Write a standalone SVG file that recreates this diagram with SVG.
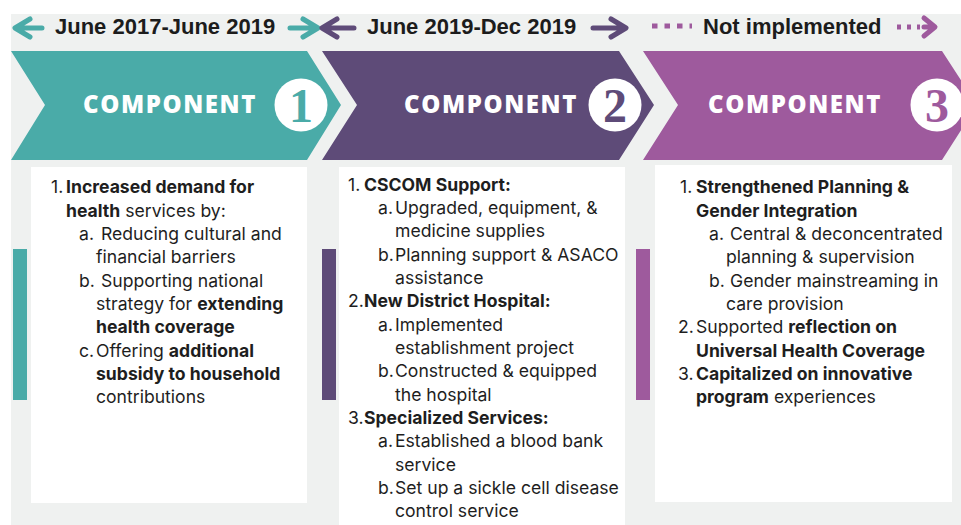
<svg xmlns="http://www.w3.org/2000/svg" width="961" height="525" viewBox="0 0 961 525">
<defs>
<style>
.hdr{font-family:"Liberation Sans",Arial,sans-serif;font-weight:700;font-size:22px;fill:#1c1c1c}
.comp{font-family:"Open Sans","Liberation Sans",sans-serif;font-weight:800;font-size:24px;fill:#ffffff;letter-spacing:1.6px}
.num{font-family:"Liberation Serif","DejaVu Serif",serif;font-weight:700;font-size:48px;text-anchor:middle}
.body{font-family:Inter,"Liberation Sans",sans-serif;font-size:17.6px;fill:#1e1e1e}
.b{font-weight:700}
.box{fill:#ffffff}
.teal{fill:#4aaba8}
.purp{fill:#5e4b78}
.pink{fill:#9e5a9d}
.arr{fill:none;stroke-width:5;stroke-linecap:round;stroke-linejoin:round}
</style>
</defs>
<rect x="0" y="0" width="961" height="525" fill="#ffffff"/>
<rect x="11" y="14" width="950" height="511" fill="#eff1f0"/>

<g id="header-labels">
<text class="hdr" x="55" y="34">June 2017-June 2019</text>
<text class="hdr" x="367" y="34">June 2019-Dec 2019</text>
<text class="hdr" x="703" y="34">Not implemented</text>
</g>

<g id="connectors">
<path class="arr" stroke="#4aaba8" d="M42 28 H16 M30 19 L15 28 L30 37"/>
<path class="arr" stroke="#4aaba8" d="M290 28 H316 M303 19 L318 28 L303 37"/>
<path class="arr" stroke="#5e4b78" d="M354 28 H324 M337 19 L322 28 L337 37"/>
<path class="arr" stroke="#5e4b78" d="M593 28 H623 M611 19 L626 28 L611 37"/>
<path fill="none" stroke="#9e5a9d" stroke-width="5" stroke-dasharray="5.5 7" d="M652 26 H692"/>
<path fill="none" stroke="#9e5a9d" stroke-width="5" stroke-dasharray="4 6" d="M897 27 H920"/>
<path class="arr" stroke="#9e5a9d" d="M924 27 H934 M924 18 L935 27 L924 36"/>
</g>

<g id="component-1">
<polygon class="teal" points="11,51 307,51 341,105 307,160 11,160 45,105"/>
<text class="comp" x="83" y="113">COMPONENT</text>
<circle cx="301" cy="105" r="26.5" fill="#ffffff"/>
<text class="num" x="301" y="122" fill="#4aaba8">1</text>
</g>

<g id="component-2">
<polygon class="purp" points="322,51 619,51 654,105 619,160 322,160 357,105"/>
<text class="comp" x="404" y="113">COMPONENT</text>
<circle cx="615" cy="105" r="26.5" fill="#ffffff"/>
<text class="num" x="615" y="122" fill="#5e4b78">2</text>
</g>

<g id="component-3">
<polygon class="pink" points="643,51 942,51 977,105 942,160 643,160 678,105"/>
<text class="comp" x="708" y="113">COMPONENT</text>
<circle cx="937" cy="105" r="26.5" fill="#ffffff"/>
<text class="num" x="937" y="122" fill="#9e5a9d">3</text>
</g>

<g id="box-1">
<rect class="teal" x="13" y="249" width="14" height="151"/>
<rect class="box" x="31" y="167" width="276" height="336"/>
<text class="body">
<tspan x="51" y="193.3">1.</tspan><tspan x="66" y="193.3" class="b">Increased demand for</tspan>
<tspan x="66" y="216.7"><tspan class="b">health</tspan> services by:</tspan>
<tspan x="79" y="240">a.</tspan><tspan x="101" y="240">Reducing cultural and</tspan>
<tspan x="96" y="263.3">financial barriers</tspan>
<tspan x="79" y="286.7">b.</tspan><tspan x="101" y="286.7">Supporting national</tspan>
<tspan x="96" y="310">strategy for <tspan class="b">extending</tspan></tspan>
<tspan x="96" y="333.3" class="b">health coverage</tspan>
<tspan x="79" y="356.7">c.</tspan><tspan x="96" y="356.7">Offering <tspan class="b">additional</tspan></tspan>
<tspan x="96" y="380" class="b">subsidy to household</tspan>
<tspan x="96" y="403.3">contributions</tspan>
</text>
</g>

<g id="box-2">
<rect class="purp" x="322" y="249" width="14" height="151"/>
<rect class="box" x="339" y="167" width="286" height="358"/>
<text class="body">
<tspan x="348" y="190.7">1.</tspan><tspan x="364" y="190.7" class="b">CSCOM Support:</tspan>
<tspan x="378" y="214">a.</tspan><tspan x="395" y="214">Upgraded, equipment, &amp;</tspan>
<tspan x="395" y="237.3">medicine supplies</tspan>
<tspan x="378" y="260.7">b.</tspan><tspan x="395" y="260.7">Planning support &amp; ASACO</tspan>
<tspan x="395" y="284">assistance</tspan>
<tspan x="348" y="307.3">2.</tspan><tspan x="364" y="307.3" class="b">New District Hospital:</tspan>
<tspan x="378" y="330.7">a.</tspan><tspan x="395" y="330.7">Implemented</tspan>
<tspan x="395" y="354">establishment project</tspan>
<tspan x="378" y="377.3">b.</tspan><tspan x="395" y="377.3">Constructed &amp; equipped</tspan>
<tspan x="395" y="400.7">the hospital</tspan>
<tspan x="348" y="424">3.</tspan><tspan x="364" y="424" class="b">Specialized Services:</tspan>
<tspan x="378" y="447.3">a.</tspan><tspan x="395" y="447.3">Established a blood bank</tspan>
<tspan x="395" y="470.7">service</tspan>
<tspan x="378" y="494">b.</tspan><tspan x="395" y="494">Set up a sickle cell disease</tspan>
<tspan x="395" y="517.3">control service</tspan>
</text>
</g>

<g id="box-3">
<rect class="pink" x="636" y="249" width="14" height="151"/>
<rect class="box" x="655" y="165" width="297" height="337"/>
<text class="body">
<tspan x="680" y="193.3">1.</tspan><tspan x="696" y="193.3" class="b">Strengthened Planning &amp;</tspan>
<tspan x="696" y="216.7" class="b">Gender Integration</tspan>
<tspan x="709" y="240">a.</tspan><tspan x="730" y="240">Central &amp; deconcentrated</tspan>
<tspan x="726" y="263.3">planning &amp; supervision</tspan>
<tspan x="709" y="286.7">b.</tspan><tspan x="730" y="286.7">Gender mainstreaming in</tspan>
<tspan x="726" y="310">care provision</tspan>
<tspan x="678" y="333.3">2.</tspan><tspan x="696" y="333.3">Supported <tspan class="b">reflection on</tspan></tspan>
<tspan x="696" y="356.7" class="b">Universal Health Coverage</tspan>
<tspan x="678" y="380">3.</tspan><tspan x="696" y="380" class="b">Capitalized on innovative</tspan>
<tspan x="696" y="403.3"><tspan class="b">program</tspan> experiences</tspan>
</text>
</g>
</svg>
